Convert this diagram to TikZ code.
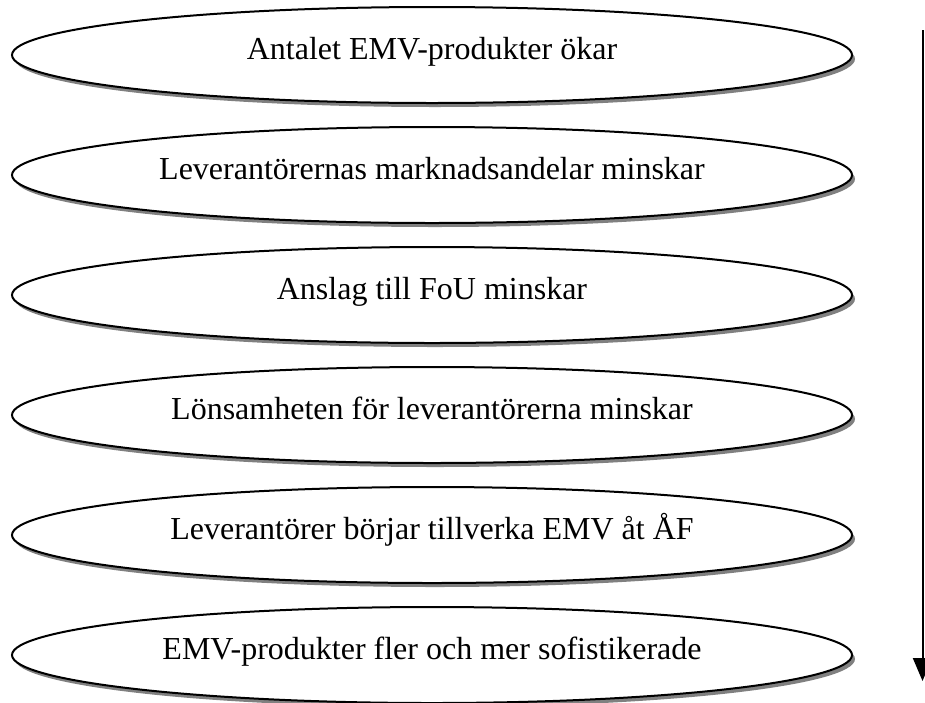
\documentclass[tikz,border=0pt]{standalone}
\usepackage{fontspec}
\setmainfont{Liberation Serif}
\usetikzlibrary{shapes.geometric, shadows, arrows.meta}

\begin{document}
\begin{tikzpicture}[x=1pt, y=-1pt, >={Triangle[length=23pt, width=19pt]},
    line width=2pt,
    oval/.style={ellipse, draw, fill=white, minimum width=840pt, minimum height=96pt,
        inner sep=0pt, text height=22pt, text depth=14pt,
        font=\fontsize{32}{38}\selectfont,
        drop shadow={shadow xshift=3pt, shadow yshift=-4pt, fill=gray, opacity=1}}]
    \useasboundingbox (0,0) rectangle (925,702);

    \node[oval] (E1) at (432,55)  {Antalet EMV-produkter ökar};
    \node[oval] (E2) at (432,175) {Leverantörernas marknadsandelar minskar};
    \node[oval] (E3) at (432,295) {Anslag till FoU minskar};
    \node[oval] (E4) at (432,415) {Lönsamheten för leverantörerna minskar};
    \node[oval] (E5) at (432,535) {Leverantörer börjar tillverka EMV åt ÅF};
    \node[oval] (E6) at (432,655) {EMV-produkter fler och mer sofistikerade};

    \coordinate (S) at (922.5,30);
    \coordinate (T) at (922.5,681);
    \draw[->] (S) -- (T);
\end{tikzpicture}
\end{document}
